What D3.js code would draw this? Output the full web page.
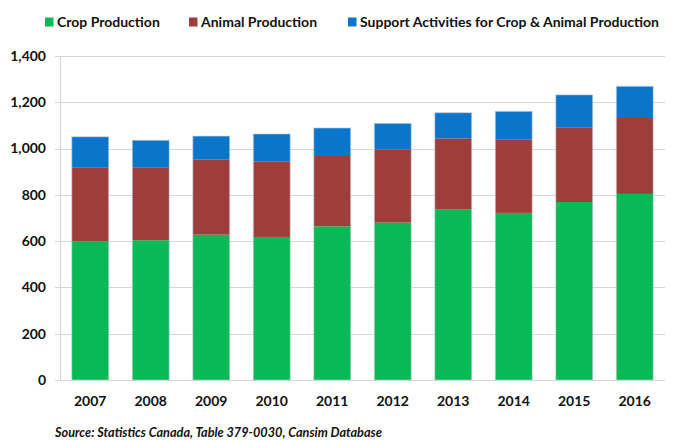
<!DOCTYPE html>
<html>
<head>
<meta charset="utf-8">
<script src="https://cdn.jsdelivr.net/npm/d3@7"></script>
<style>
  body { margin: 0; background: #fff; }
  svg { display: block; font-family: Lato, 'Open Sans', sans-serif; }
</style>
</head>
<body>
<svg id="chart"></svg>
<script>
const years = ['2007', '2008', '2009', '2010', '2011', '2012', '2013', '2014', '2015', '2016']
const cropProduction = [600, 604, 628, 618, 664, 680, 738, 722, 769, 804]
const animalProduction = [317, 313, 324, 327, 308, 317, 306, 316, 323, 328]
const supportActivities = [134, 119, 102, 118, 117, 112, 111, 123, 140, 137]
const seriesNames = ['Crop Production', 'Animal Production', 'Support Activities for Crop & Animal Production']
const yTicks = [0, 200, 400, 600, 800, 1000, 1200, 1400]
const sourceNote = 'Source: Statistics Canada, Table 379-0030, Cansim Database'

const colors = ['#08b955', '#9e3e3b', '#0b75ca']

const width = 674
const height = 440
const svg = d3.select('#chart').attr('width', width).attr('height', height)

const x = d3.scaleBand()
  .domain(years)
  .range([60, 665])
  .paddingInner(0.39)
  .paddingOuter(0.195)

const y = d3.scaleLinear()
  .domain([0, 1400])
  .range([380, 56])

// gridlines
svg.append('g')
  .selectAll('line')
  .data(yTicks)
  .enter().append('line')
  .attr('x1', 55)
  .attr('x2', 665)
  .attr('y1', d => Math.round(y(d)) + 0.5)
  .attr('y2', d => Math.round(y(d)) + 0.5)
  .attr('stroke', '#d6d6d6')
  .attr('stroke-width', 1.2)

// y axis line
svg.append('line')
  .attr('x1', 60.5).attr('x2', 60.5)
  .attr('y1', y(1400)).attr('y2', y(0))
  .attr('stroke', '#d6d6d6')
  .attr('stroke-width', 1.2)

// stacked bars
const rows = years.map((yr, i) => ({
  year: yr,
  s0: cropProduction[i],
  s1: animalProduction[i],
  s2: supportActivities[i]
}))
const stack = d3.stack().keys(['s0', 's1', 's2'])
const layers = stack(rows)

svg.append('g')
  .selectAll('g')
  .data(layers)
  .enter().append('g')
  .attr('fill', (d, i) => colors[i])
  .selectAll('rect')
  .data(d => d)
  .enter().append('rect')
  .attr('x', d => x(d.data.year))
  .attr('width', x.bandwidth())
  .attr('y', d => y(d[1]))
  .attr('height', d => y(d[0]) - y(d[1]))

// bar outlines, light edge like the original
svg.append('g')
  .selectAll('rect')
  .data(rows)
  .enter().append('rect')
  .attr('x', d => x(d.year))
  .attr('width', x.bandwidth())
  .attr('y', d => y(d.s0 + d.s1 + d.s2))
  .attr('height', d => y(0) - y(d.s0 + d.s1 + d.s2))
  .attr('fill', 'none')
  .attr('stroke', 'rgba(200,210,220,0.6)')
  .attr('stroke-width', 1)

// y tick labels
svg.append('g')
  .selectAll('text')
  .data(yTicks)
  .enter().append('text')
  .attr('x', 46)
  .attr('y', d => y(d))
  .attr('dy', '0.35em')
  .attr('text-anchor', 'end')
  .attr('font-size', '14px')
  .attr('font-weight', 'bold')
  .attr('fill', '#111')
  .text(d => d3.format(',')(d))

// x tick labels
svg.append('g')
  .selectAll('text')
  .data(years)
  .enter().append('text')
  .attr('x', d => x(d) + x.bandwidth() / 2)
  .attr('y', 401)
  .attr('dy', '0.35em')
  .attr('text-anchor', 'middle')
  .attr('font-size', '14px')
  .attr('font-weight', 'bold')
  .attr('fill', '#111')
  .text(d => d)

// legend
const legendX = [45, 189, 348]
const legend = svg.append('g')
  .selectAll('g')
  .data(seriesNames)
  .enter().append('g')
  .attr('transform', (d, i) => `translate(${legendX[i]}, 22)`)

legend.append('rect')
  .attr('x', 0)
  .attr('y', -4.5)
  .attr('width', 8.5)
  .attr('height', 9)
  .attr('fill', (d, i) => colors[i])

legend.append('text')
  .attr('x', 12)
  .attr('dy', '0.35em')
  .attr('font-size', '14px')
  .attr('font-weight', 'bold')
  .attr('fill', '#111')
  .text(d => d)

// source note
svg.append('text')
  .attr('x', 55)
  .attr('y', 433)
  .attr('dy', '0.35em')
  .attr('font-size', '12.7px')
  .attr('font-weight', 'bold')
  .attr('font-style', 'italic')
  .attr('fill', '#111')
  .text(sourceNote)
</script>
</body>
</html>
